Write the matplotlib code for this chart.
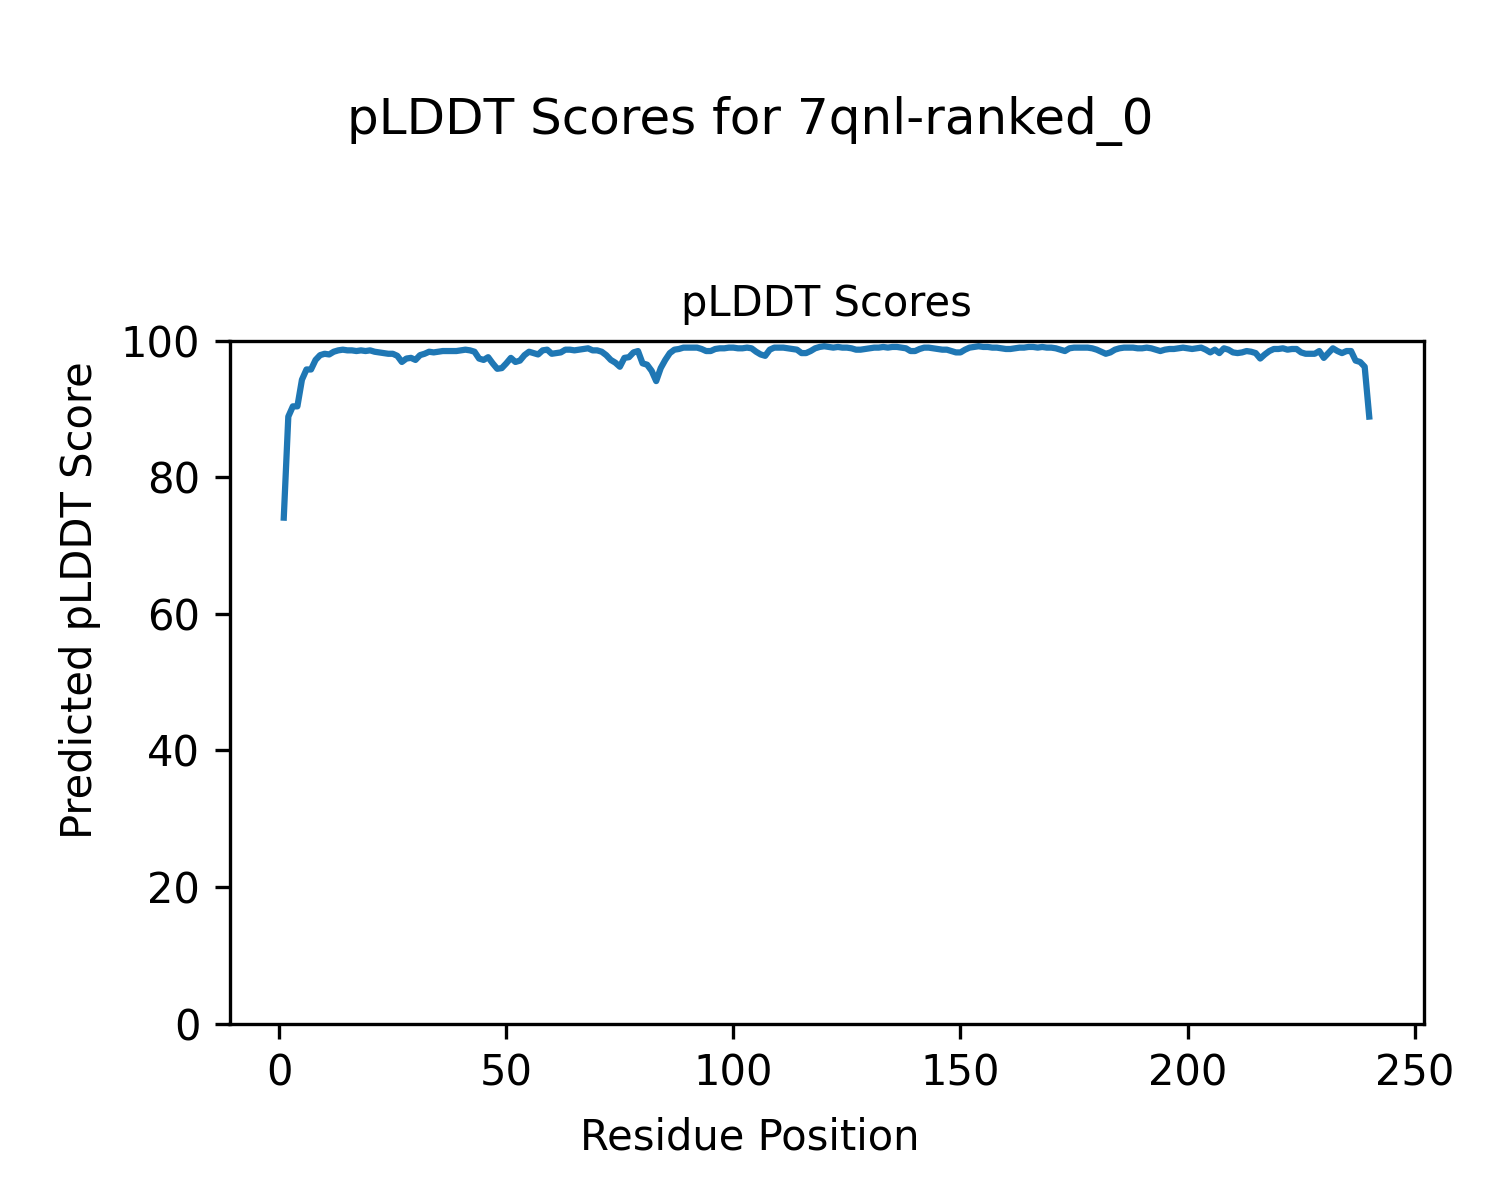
import matplotlib
matplotlib.use("Agg")
import matplotlib.pyplot as plt

residues = list(range(1, 241))
plddt = [
    74.1, 88.9, 90.4, 90.4, 94.3, 95.8, 95.8, 97.2, 97.9, 98.1,
    98.0, 98.4, 98.6, 98.7, 98.6, 98.6, 98.5, 98.6, 98.5, 98.6,
    98.4, 98.3, 98.2, 98.1, 98.1, 97.8, 96.9, 97.4, 97.5, 97.2,
    97.9, 98.1, 98.4, 98.3, 98.4, 98.5, 98.5, 98.5, 98.5, 98.6,
    98.7, 98.6, 98.4, 97.4, 97.2, 97.6, 96.7, 95.9, 96.0, 96.7,
    97.5, 96.9, 97.1, 97.9, 98.4, 98.2, 98.0, 98.6, 98.7, 98.1,
    98.2, 98.3, 98.7, 98.7, 98.6, 98.7, 98.8, 98.9, 98.6, 98.6,
    98.4, 97.9, 97.2, 96.8, 96.2, 97.5, 97.6, 98.3, 98.5, 96.7,
    96.5, 95.6, 94.1, 96.0, 97.2, 98.2, 98.7, 98.8, 99.0, 99.0,
    99.0, 99.0, 98.8, 98.5, 98.5, 98.8, 98.9, 98.9, 99.0, 99.0,
    98.9, 98.9, 99.0, 98.9, 98.4, 98.0, 97.8, 98.7, 99.0, 99.0,
    99.0, 98.9, 98.8, 98.7, 98.2, 98.2, 98.5, 98.9, 99.1, 99.2,
    99.1, 99.0, 99.1, 99.0, 99.0, 98.9, 98.7, 98.7, 98.8, 98.9,
    99.0, 99.0, 99.1, 99.0, 99.1, 99.1, 99.0, 98.9, 98.5, 98.5,
    98.8, 99.0, 99.0, 98.9, 98.8, 98.7, 98.7, 98.5, 98.3, 98.3,
    98.7, 99.0, 99.1, 99.2, 99.1, 99.1, 99.0, 99.0, 98.9, 98.8,
    98.8, 98.9, 99.0, 99.0, 99.1, 99.1, 99.0, 99.1, 99.0, 99.0,
    98.9, 98.7, 98.5, 98.9, 99.0, 99.0, 99.0, 99.0, 98.9, 98.7,
    98.4, 98.1, 98.3, 98.7, 98.9, 99.0, 99.0, 99.0, 98.9, 98.9,
    99.0, 98.9, 98.7, 98.5, 98.7, 98.8, 98.8, 98.9, 99.0, 98.9,
    98.8, 98.9, 99.0, 98.7, 98.3, 98.7, 98.2, 98.9, 98.7, 98.3,
    98.2, 98.3, 98.5, 98.4, 98.2, 97.4, 98.0, 98.5, 98.8, 98.8,
    98.9, 98.7, 98.8, 98.8, 98.3, 98.1, 98.1, 98.1, 98.5, 97.5,
    98.2, 98.9, 98.5, 98.2, 98.5, 98.5, 97.1, 96.9, 96.2, 88.9,
]

fig = plt.figure(figsize=(5, 4), dpi=300)
ax = fig.add_axes([0.153, 0.147, 0.796, 0.569])
ax.plot(residues, plddt, color="#1f77b4", linewidth=1.5)
ax.set_ylim(0, 100)
ax.set_title("pLDDT Scores", fontsize=10)
fig.text(0.5, 0.052, "Residue Position", fontsize=10, ha="center", va="center")
fig.text(0.0535, 0.5, "Predicted pLDDT Score", fontsize=10, ha="center",
         va="center", rotation=90)
fig.suptitle("pLDDT Scores for 7qnl-ranked_0", fontsize=12, y=0.92)
fig.savefig("out.png", dpi=300)
